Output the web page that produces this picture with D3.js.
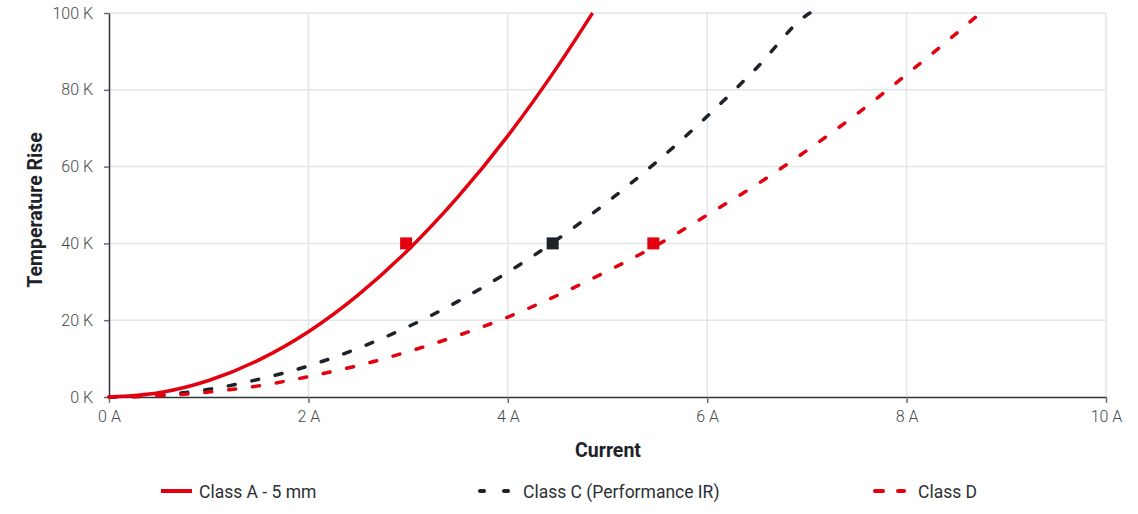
<!DOCTYPE html>
<html><head><meta charset="utf-8">
<script src="https://cdn.jsdelivr.net/npm/d3@7"></script>
<style>
body{margin:0;background:#fff;}
svg{display:block;}
</style></head>
<body>
<svg id="chart" width="1138" height="514"></svg>
<script>
// Data (current in A, temperature rise in K)
const currentA = [0,0.5,1,1.5,2,2.5,3,3.5,4,4.5,4.85];
const classA   = [0,1.1,4.3,9.6,17.0,26.6,38.3,52.1,68.0,86.1,100];
const currentC = [0,0.5,1,1.5,2,2.5,3,3.5,4,4.5,5,5.5,6,6.5,7,7.03];
const classC   = [0,0.5,2.0,4.6,8.1,12.7,18.3,24.9,32.5,41.1,50.8,61.4,73.1,85.8,99.5,100];
const currentD = [0,0.5,1,1.5,2,2.5,3,3.5,4,4.5,5,5.5,6,6.5,7,7.5,8,8.5,8.74];
const classD   = [0,0.3,1.3,2.9,5.3,8.2,11.8,16.0,20.8,26.5,32.8,39.6,47.4,55.4,64.2,73.7,84.0,94.7,100];
const markerX  = [2.98,4.45,5.46];
const markerY  = [40,40,40];
const xTicks = [0,2,4,6,8,10];
const yTicks = [0,20,40,60,80,100];
const seriesNames = ["Class A - 5 mm","Class C (Performance IR)","Class D"];

const RED = "#e3000f", DARK = "#1d2329";
const svg = d3.select("#chart");
const m = {l:109, r:1106, t:13, b:397};
const x = d3.scaleLinear().domain([0,10]).range([m.l,m.r]);
const y = d3.scaleLinear().domain([0,100]).range([m.b,m.t]);

// grid
svg.append("g").selectAll("line").data(yTicks.slice(1)).join("line")
  .attr("x1",m.l).attr("x2",m.r).attr("y1",d=>y(d)).attr("y2",d=>y(d))
  .attr("stroke","#e2e5ea").attr("stroke-width",1.5);
svg.append("g").selectAll("line").data(xTicks.slice(1)).join("line")
  .attr("y1",m.t).attr("y2",m.b).attr("x1",d=>x(d)).attr("x2",d=>x(d))
  .attr("stroke","#e2e5ea").attr("stroke-width",1.5);

// axes
const FONT = "Roboto, 'Liberation Sans', sans-serif";
const xAxis = svg.append("g").attr("transform",`translate(0,${m.b})`)
  .call(d3.axisBottom(x).tickValues(xTicks).tickSize(6).tickSizeOuter(0).tickPadding(8).tickFormat(d=>d+" A"));
const yAxis = svg.append("g").attr("transform",`translate(${m.l},0)`)
  .call(d3.axisLeft(y).tickValues(yTicks).tickSize(5).tickSizeOuter(0).tickPadding(11).tickFormat(d=>d+" K"));
[xAxis,yAxis].forEach(a=>{
  a.select(".domain").attr("stroke","#2f3438").attr("stroke-width",1.5);
  a.selectAll(".tick line").attr("stroke","#6b6f73").attr("stroke-width",1.5);
  a.selectAll(".tick text").attr("fill","#46494c").style("font-family",FONT).style("font-size","16px").style("font-weight","300");
});

// curves
const line = d3.line().x(d=>x(d[0])).y(d=>y(d[1])).curve(d3.curveMonotoneX);
const zipped = (xs,ys)=>xs.map((v,i)=>[v,ys[i]]);
svg.append("path").datum(zipped(currentC,classC)).attr("d",line)
  .attr("fill","none").attr("stroke",DARK).attr("stroke-width",3.5)
  .attr("stroke-linecap","round").attr("stroke-dasharray","7 17");
svg.append("path").datum(zipped(currentD,classD)).attr("d",line)
  .attr("fill","none").attr("stroke",RED).attr("stroke-width",3.5)
  .attr("stroke-linecap","round").attr("stroke-dasharray","7 17");
svg.append("path").datum(zipped(currentA,classA)).attr("d",line)
  .attr("fill","none").attr("stroke",RED).attr("stroke-width",3.5);

// markers
const mColors = [RED, DARK, RED];
svg.append("g").selectAll("rect").data(markerX.map((v,i)=>[v,markerY[i],mColors[i]])).join("rect")
  .attr("x",d=>x(d[0])-6).attr("y",d=>y(d[1])-6).attr("width",12).attr("height",12)
  .attr("fill",d=>d[2]);

// axis titles
svg.append("text").attr("x",608).attr("y",457).attr("text-anchor","middle")
  .style("font-family",FONT).style("font-size","19.5px").style("font-weight","700").attr("fill","#1d2329")
  .text("Current");
svg.append("text").attr("transform",`translate(42,210) rotate(-90)`).attr("text-anchor","middle")
  .style("font-family",FONT).style("font-size","19.5px").style("font-weight","700").attr("fill","#1d2329")
  .text("Temperature Rise");

// legend
const legendItems = [
  {x1:161, x2:192, tx:199, c:RED,  dash:null},
  {x1:480, x2:508, tx:523, c:DARK, dash:"4 20"},
  {x1:875, x2:904, tx:918, c:RED,  dash:"8 15"}
];
seriesNames.forEach((name,i)=>{
  const it = legendItems[i];
  const g = svg.append("g").attr("transform","translate(0,491)");
  g.append("line").attr("x1",it.x1).attr("x2",it.x2).attr("y1",0).attr("y2",0)
    .attr("stroke",it.c).attr("stroke-width",4)
    .attr("stroke-linecap",it.dash?"round":"butt")
    .attr("stroke-dasharray",it.dash);
  g.append("text").attr("x",it.tx).attr("y",6.5).attr("fill","#2b3035")
    .style("font-family",FONT).style("font-size","17.5px").text(name);
});
</script>
</body></html>
